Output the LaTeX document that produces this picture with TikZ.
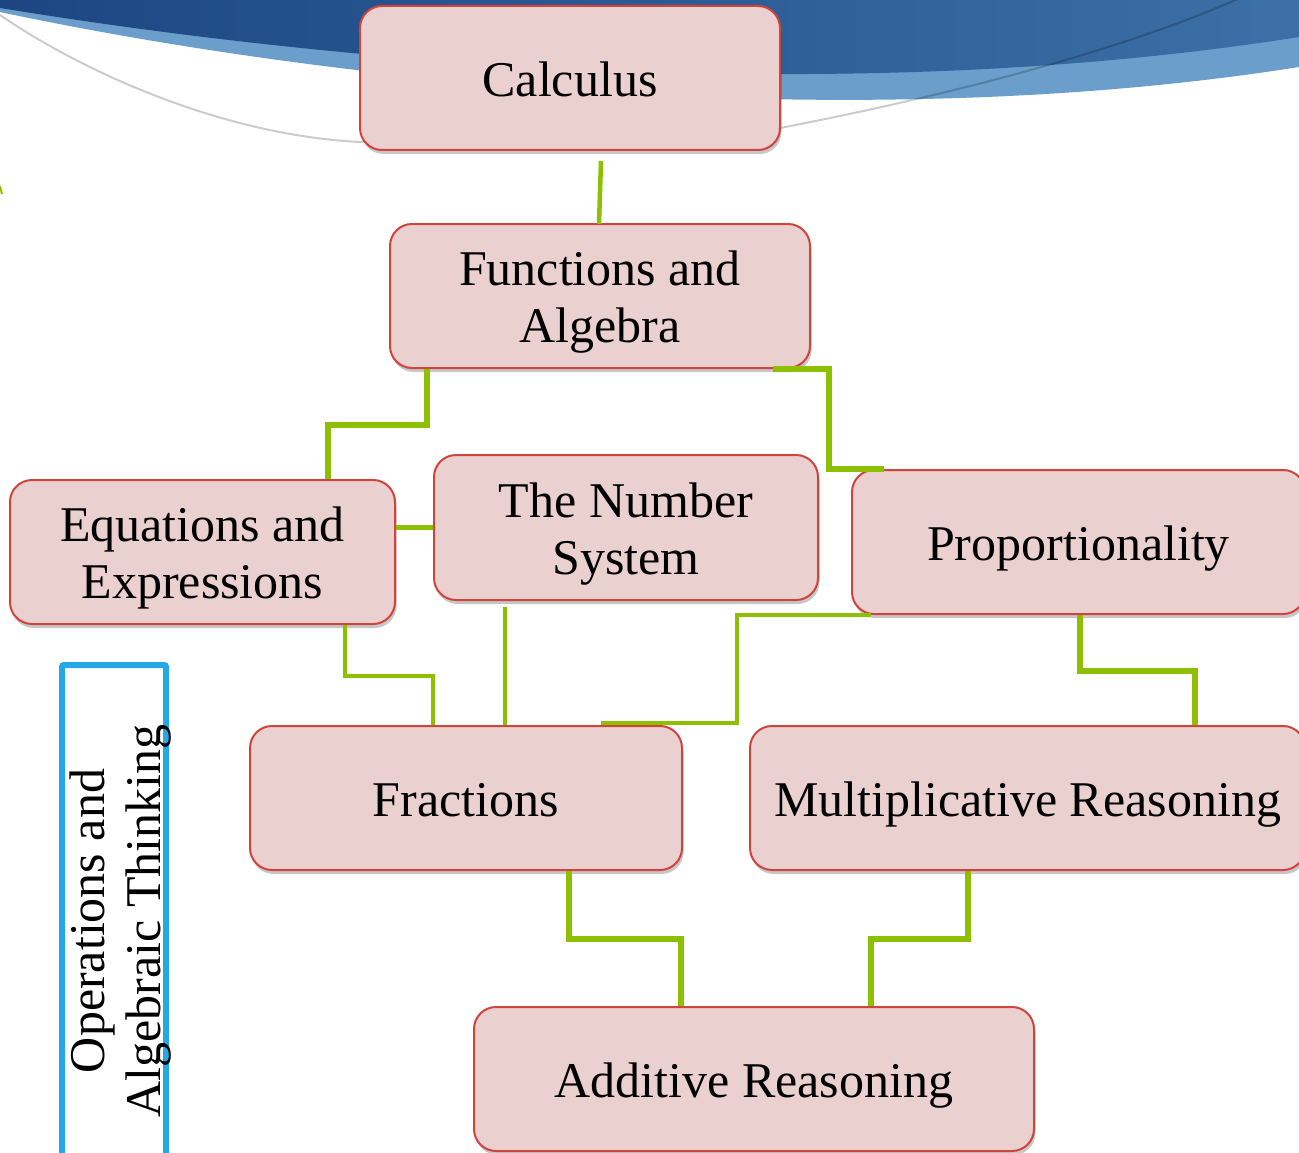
\documentclass[tikz,border=0pt]{standalone}
\usepackage{fontspec}
\setmainfont{Liberation Serif}
\usetikzlibrary{shadows}
\definecolor{boxfill}{RGB}{235,208,208}
\definecolor{boxline}{RGB}{208,68,62}
\definecolor{conn}{RGB}{141,192,0}
\definecolor{skyblue}{RGB}{38,168,228}
\definecolor{bandlight}{RGB}{108,158,204}
\definecolor{banddarkL}{RGB}{28,70,130}
\definecolor{banddarkR}{RGB}{60,112,166}
\newcommand\ctext[1]{\raisebox{-7pt}[\height][\depth]{\begin{tabular}{@{}c@{}}#1\end{tabular}}}
\tikzset{
  concept/.style={draw=boxline, fill=boxfill, line width=2pt, rounded corners=22pt,
    inner sep=0pt, align=center, font=\fontsize{50}{57}\selectfont,
    drop shadow={shadow xshift=1.5pt, shadow yshift=-4pt, opacity=0.22, fill=black}},
  gthick/.style={draw=conn, line width=6.5pt},
  gthin/.style={draw=conn, line width=4.5pt},
}
\begin{document}
\begin{tikzpicture}[x=1pt, y=-1pt]
\clip (0,0) rectangle (1299,1153);
\fill[white] (0,0) rectangle (1299,1153);
% banner
\fill[bandlight] (0,0) -- (0,12) .. controls (330,82) and (850,138) .. (1299,67) -- (1299,0) -- cycle;
\shade[left color=banddarkL, right color=banddarkR] (0,0) -- (0,8) .. controls (350,65) and (850,108) .. (1299,37) -- (1299,0) -- cycle;
\draw[black, opacity=0.2, line width=2pt] (0,15) .. controls (80,70) and (220,135) .. (360,142) -- (780,128) .. controls (900,105) and (1100,60) .. (1240,-2);
\draw[conn, line width=2pt] (0,186) -- (2,194);

% blue side frame
\draw[skyblue, line width=6pt, rounded corners=2pt] (62,1165) -- (62,665) -- (166,665) -- (166,1165);
\node[rotate=90, align=center, inner sep=0pt, font=\fontsize{50}{56}\selectfont] (oat) at (121,921) {Operations and\\Algebraic Thinking};

% concept boxes
\node[concept, minimum width=420pt, minimum height=144pt] (cal) at (570,78) {\ctext{Calculus}};
\node[concept, minimum width=420pt, minimum height=144pt] (fun) at (600,296) {\ctext{Functions and\\Algebra}};
\node[concept, minimum width=385pt, minimum height=144pt] (eqn) at (202.5,552) {\ctext{Equations and\\Expressions}};
\node[concept, minimum width=384pt, minimum height=145pt] (num) at (626,527.5) {\ctext{The Number\\System}};
\node[concept, minimum width=453pt, minimum height=144pt] (pro) at (1078.5,542) {\ctext{Proportionality}};
\node[concept, minimum width=432pt, minimum height=144pt] (fra) at (466,798) {\ctext{Fractions}};
\node[concept, minimum width=555pt, minimum height=144pt] (mul) at (1027.5,798) {\ctext{Multiplicative Reasoning}};
\node[concept, minimum width=560pt, minimum height=144pt] (add) at (754,1079) {\ctext{Additive Reasoning}};

% connectors
\draw[gthin] ([xshift=31pt,yshift=-10pt]cal.south) -- ([xshift=-1pt,yshift=-1pt]fun.north);
\draw[gthick] ([xshift=38pt]fun.south west) -- ++(0,56) -| ([xshift=319pt]eqn.north west);
\draw[gthick] ([xshift=-38pt]fun.south east) -- ++(56,0) |- ([xshift=33pt]pro.north west);
\draw[gthin] (eqn.east |- num.west) -- (num.west);
\draw[gthin] ([xshift=336pt]eqn.south west) -- ++(0,51) -| ([xshift=184pt]fra.north west);
\draw[gthin] ([xshift=72pt,yshift=-6pt]num.south west) -- ([xshift=72pt]num.south west |- fra.north);
\draw[gthin] ([xshift=20pt]pro.south west) -- ++(-134,0) |- ([xshift=352pt,yshift=2pt]fra.north west);
\draw[gthick] ([xshift=229pt]pro.south west) -- ++(0,56) -| ([xshift=446pt]mul.north west);
\draw[gthick] ([xshift=320pt]fra.south west) -- ++(0,68) -| ([xshift=208pt]add.north west);
\draw[gthick] ([xshift=219pt]mul.south west) -- ++(0,68) -| ([xshift=398pt]add.north west);
\end{tikzpicture}
\end{document}
